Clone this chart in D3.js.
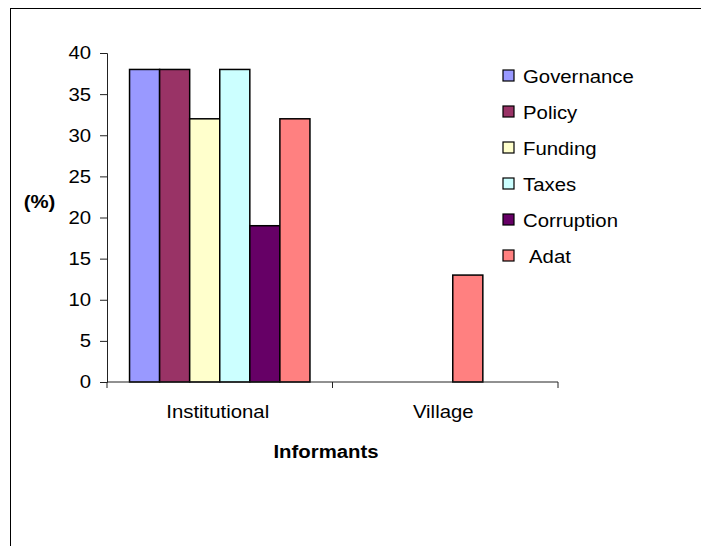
<!DOCTYPE html>
<html>
<head>
<meta charset="utf-8">
<script src="https://cdn.jsdelivr.net/npm/d3@7"></script>
<style>
  body { margin: 0; background: #fff; }
  text { font-family: Arial, "Liberation Sans", sans-serif; fill: #000; }
</style>
</head>
<body>
<svg width="701" height="546"></svg>
<script>
var categories = ["Institutional", "Village"];
var seriesNames = ["Governance", "Policy", "Funding", "Taxes", "Corruption", "Adat"];
var seriesColors = ["#9999ff", "#993366", "#ffffcc", "#ccffff", "#660066", "#ff8080"];
var institutionalValues = [38, 38, 32, 38, 19, 32];
var villageValues = [0, 0, 0, 0, 0, 13];
// slot of each series inside its group (village bar sits off the regular grid in the original)
var institutionalSlots = [0, 1, 2, 3, 4, 5];
var villageSlots = [0, 1, 2, 3, 4, 3.25];
var yTicks = [0, 5, 10, 15, 20, 25, 30, 35, 40];

var svg = d3.select("svg");
var margin = {top: 53, right: 143, bottom: 164, left: 107};
var width = 701 - margin.left - margin.right;
var height = 546 - margin.top - margin.bottom;
var stretch = 1.1; // the original text is a bit wider than plain Arial

// outer frame
svg.append("rect")
  .attr("x", 10.5).attr("y", 8.5)
  .attr("width", 720).attr("height", 560)
  .attr("fill", "none").attr("stroke", "#000").attr("stroke-width", 1);

var g = svg.append("g").attr("transform", `translate(${margin.left}, ${margin.top})`);

var x0 = d3.scaleBand().domain(categories).range([0, width]);
var xs = d3.scaleLinear().domain([0, 6])
  .range([x0.bandwidth() * 0.1, x0.bandwidth() * 0.9]);
var barW = xs(1) - xs(0);
var y = d3.scaleLinear().domain([0, 40]).range([height, 0]);
var color = d3.scaleOrdinal().domain(seriesNames).range(seriesColors);

var rows = [];
categories.forEach(function(cat, ci) {
  var vals = ci == 0 ? institutionalValues : villageValues;
  var slots = ci == 0 ? institutionalSlots : villageSlots;
  seriesNames.forEach(function(s, si) {
    if (vals[si] > 0) rows.push({cat: cat, name: s, value: vals[si], slot: slots[si]});
  });
});

g.selectAll("rect.bar")
  .data(rows)
  .enter().append("rect")
  .attr("class", "bar")
  .attr("x", d => x0(d.cat) + xs(d.slot))
  .attr("y", d => y(d.value))
  .attr("width", barW)
  .attr("height", d => height - y(d.value))
  .attr("fill", d => color(d.name))
  .attr("stroke", "#000")
  .attr("stroke-width", 1.5);

// y axis
var yAxis = g.append("g")
  .call(d3.axisLeft(y).tickValues(yTicks).tickSize(7).tickPadding(7.5));
yAxis.select(".domain").attr("stroke", "#222");
yAxis.selectAll(".tick line").attr("stroke", "#222");
yAxis.selectAll("text")
  .attr("font-size", "18.5px")
  .attr("font-family", "Arial, 'Liberation Sans', sans-serif")
  .attr("transform", `scale(${stretch},1)`);

// x axis with ticks between the categories
var xAxis = g.append("g").attr("transform", `translate(0, ${height})`);
xAxis.append("line").attr("x1", 0).attr("x2", width).attr("stroke", "#222");
xAxis.selectAll("line.tk")
  .data([0, width / 2, width])
  .enter().append("line")
  .attr("class", "tk")
  .attr("x1", d => d).attr("x2", d => d)
  .attr("y1", 0).attr("y2", 6)
  .attr("stroke", "#222");
xAxis.selectAll("text.cat")
  .data(categories)
  .enter().append("text")
  .attr("class", "cat")
  .attr("transform", d => `translate(${x0(d) + x0.bandwidth() / 2 - 2}, 36) scale(${stretch},1)`)
  .attr("text-anchor", "middle")
  .attr("font-size", "18.5px")
  .text(d => d);

// axis titles
svg.append("text")
  .attr("transform", `translate(326, 458) scale(${stretch},1)`)
  .attr("text-anchor", "middle")
  .attr("font-size", "18.5px").attr("font-weight", "bold")
  .text("Informants");
svg.append("text")
  .attr("transform", `translate(39.5, 208) scale(${stretch},1)`)
  .attr("text-anchor", "middle")
  .attr("font-size", "18.5px").attr("font-weight", "bold")
  .text("(%)");

// legend
var legend = svg.append("g").attr("transform", "translate(503, 70)");
var items = legend.selectAll("g")
  .data(seriesNames)
  .enter().append("g")
  .attr("transform", (d, i) => `translate(0, ${i * 36})`);
items.append("rect")
  .attr("width", 11).attr("height", 11)
  .attr("fill", d => color(d))
  .attr("stroke", "#000").attr("stroke-width", 1.2);
items.append("text")
  .attr("transform", d => `translate(${d == "Adat" ? 26 : 20}, 12.5) scale(${stretch},1)`)
  .attr("font-size", "18.5px")
  .text(d => d);
</script>
</body>
</html>
